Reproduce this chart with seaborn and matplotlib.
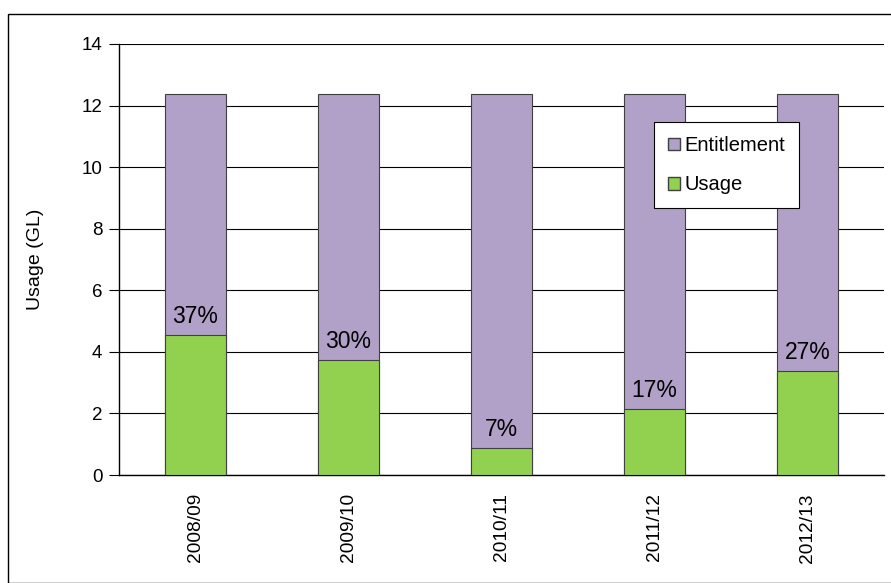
import matplotlib
matplotlib.use("Agg")
import matplotlib.pyplot as plt
import seaborn as sns
import pandas as pd
from matplotlib.patches import Patch, Rectangle

years = ["2008/09", "2009/10", "2010/11", "2011/12", "2012/13"]
entitlement = [12.38, 12.38, 12.38, 12.38, 12.38]
usage = [4.56, 3.73, 0.89, 2.13, 3.38]
pct_labels = ["37%", "30%", "7%", "17%", "27%"]

sns.set_style("white")
plt.rcParams["font.family"] = ["Liberation Sans", "DejaVu Sans"]
plt.rcParams["text.color"] = "black"
plt.rcParams["axes.labelcolor"] = "black"
plt.rcParams["xtick.color"] = "black"
plt.rcParams["ytick.color"] = "black"

df = pd.DataFrame({"Year": years, "Entitlement": entitlement, "Usage": usage})

fig = plt.figure(figsize=(8.91, 5.83), dpi=100)
fig.patches.append(Rectangle((8 / 891, 0.0), 0.995, 1 - 14 / 583, transform=fig.transFigure,
                             fill=False, edgecolor="black", linewidth=1.0))
ax = fig.add_axes([119 / 891, 108 / 583, 765 / 891, 431 / 583])

purple = "#B1A0C7"
green = "#92D050"
sns.barplot(data=df, x="Year", y="Entitlement", color=purple, width=0.4,
            edgecolor="#404040", linewidth=0.8, saturation=1, ax=ax, zorder=2)
sns.barplot(data=df, x="Year", y="Usage", color=green, width=0.4,
            edgecolor="#404040", linewidth=0.8, saturation=1, ax=ax, zorder=3)

for i, (u, t) in enumerate(zip(usage, pct_labels)):
    ax.annotate(t, (i, u), xytext=(0, 5), textcoords="offset points",
                ha="center", va="bottom", fontsize=16.5, color="black", zorder=4)

ax.set_xlim(-0.5, 4.5)
ax.set_ylim(0, 14)
ax.set_yticks(range(0, 15, 2))
ax.yaxis.grid(True, color="black", linewidth=0.8, zorder=0)
ax.set_axisbelow(True)
for s in ["top", "right"]:
    ax.spines[s].set_visible(False)
ax.spines["left"].set_color("black")
ax.spines["bottom"].set_color("black")
ax.spines["left"].set_linewidth(1.0)
ax.spines["bottom"].set_linewidth(1.0)

ax.set_xticks(range(len(years)))
ax.set_xticklabels(years, rotation=90, fontsize=13.75)
ax.set_xticks([x - 0.5 for x in range(len(years) + 1)], minor=True)
ax.tick_params(axis="x", which="major", length=0, pad=13)
ax.tick_params(axis="x", which="minor", length=6, width=0.8, color="black", direction="out")
ax.tick_params(axis="y", length=7, width=0.8, color="black", direction="out", labelsize=13.5,
               left=True, pad=5)
ax.set_xlabel("")
ax.set_ylabel("Usage (GL)", fontsize=14, labelpad=27)

handles = [Patch(facecolor=purple, edgecolor="#404040", label="Entitlement"),
           Patch(facecolor=green, edgecolor="#404040", label="Usage")]
leg = ax.legend(handles=handles, loc="upper left", bbox_to_anchor=(654 / 891, 1 - 122 / 583),
                bbox_transform=fig.transFigure, fontsize=14.5, frameon=True, fancybox=False,
                edgecolor="black", handlelength=0.6, handleheight=0.6, handletextpad=0.2,
                labelspacing=1.0, borderpad=0.7, borderaxespad=0)
leg.get_frame().set_linewidth(0.8)
leg.get_frame().set_alpha(1)
leg.set_zorder(5)

fig.savefig("out.png", dpi=100)
